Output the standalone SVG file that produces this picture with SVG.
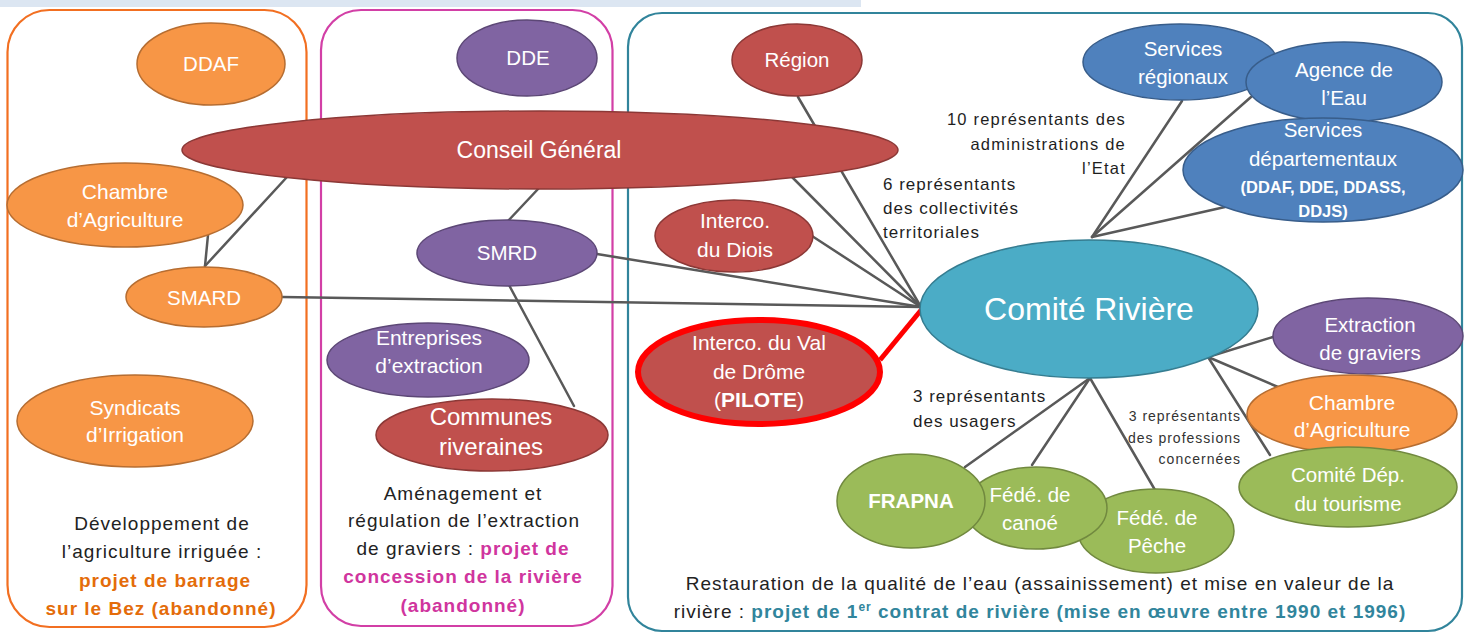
<svg xmlns="http://www.w3.org/2000/svg" width="1470" height="634" viewBox="0 0 1470 634">
<style>
text{font-family:"Liberation Sans",Arial,sans-serif}
.n{fill:#fff;font-size:20.5px;text-anchor:middle}
.nb{font-weight:bold}
.lbl{fill:#1e1e1e;font-size:17px;letter-spacing:1px}
.cap{fill:#222;font-size:19px;letter-spacing:1px;text-anchor:middle}
.or{fill:#e46c0a;font-weight:bold}
.mg{fill:#d0359e;font-weight:bold}
.tl{fill:#31859c;font-weight:bold}
.c{stroke:#595959;stroke-width:2.5;fill:none;stroke-linecap:round}
.orange{fill:#f79646;stroke:#b66d31;stroke-width:1.5}
.purple{fill:#8064a2;stroke:#5c4776;stroke-width:1.5}
.red{fill:#c0504d;stroke:#8c3836;stroke-width:1.5}
.blue{fill:#4f81bd;stroke:#385d8a;stroke-width:1.5}
.teal{fill:#4bacc6;stroke:#357d91;stroke-width:1.5}
.green{fill:#9bbb59;stroke:#71893f;stroke-width:1.5}
</style>
<rect x="0" y="0" width="1470" height="634" fill="#fff"/>
<rect x="0" y="0" width="861" height="7" fill="#dce6f2"/>
<g id="panels" fill="none" stroke-width="2.2">
<rect x="7.5" y="10" width="299" height="617" rx="42" stroke="#f26f21"/>
<rect x="321" y="10" width="291.5" height="616" rx="40" stroke="#d23fa6"/>
<rect x="628" y="13" width="834" height="618" rx="34" stroke="#31849b"/>
</g>
<g id="connectors">
<line class="c" x1="282" y1="297" x2="921" y2="307"/>
<line class="c" x1="597" y1="254" x2="921" y2="307"/>
<line class="c" x1="812" y1="236" x2="921" y2="307"/>
<line class="c" x1="792" y1="177" x2="921" y2="307"/>
<line class="c" x1="798" y1="97" x2="921" y2="307"/>
<line class="c" x1="208" y1="235" x2="205" y2="266"/>
<line class="c" x1="287" y1="177" x2="205" y2="266"/>
<line class="c" x1="539" y1="188" x2="508" y2="221"/>
<line class="c" x1="509" y1="285" x2="574" y2="406"/>
<line x1="880" y1="360" x2="922" y2="309" stroke="#ff0000" stroke-width="5"/>
<line class="c" x1="1092" y1="237" x2="1182" y2="101"/>
<line class="c" x1="1092" y1="237" x2="1251" y2="97"/>
<line class="c" x1="1092" y1="237" x2="1225" y2="207"/>
<line class="c" x1="1090" y1="378" x2="965" y2="467"/>
<line class="c" x1="1090" y1="378" x2="1032" y2="465"/>
<line class="c" x1="1090" y1="378" x2="1155" y2="490"/>
<line class="c" x1="1208" y1="357" x2="1273" y2="337"/>
<line class="c" x1="1208" y1="357" x2="1278" y2="387"/>
<line class="c" x1="1208" y1="357" x2="1270" y2="455"/>
</g>
<g id="ddaf"><ellipse class="orange" cx="211" cy="64" rx="74" ry="41"/><text class="n" x="211" y="71">DDAF</text></g>
<g id="conseil-general"><ellipse class="red" cx="540" cy="150" rx="358" ry="39"/><text class="n" x="539" y="158" style="font-size:23px">Conseil Général</text></g>
<g id="chambre-agri-left"><ellipse class="orange" cx="125" cy="205" rx="118" ry="42"/><text class="n" x="125" y="199" style="font-size:21px">Chambre</text><text class="n" x="125" y="227" style="font-size:21px">d’Agriculture</text></g>
<g id="smard"><ellipse class="orange" cx="204" cy="297" rx="78" ry="30"/><text class="n" x="204" y="305">SMARD</text></g>
<g id="syndicats"><ellipse class="orange" cx="135" cy="421" rx="118" ry="46"/><text class="n" x="135" y="415" style="font-size:21px">Syndicats</text><text class="n" x="135" y="442" style="font-size:21px">d’Irrigation</text></g>
<g id="dde"><ellipse class="purple" cx="527" cy="58" rx="70" ry="38"/><text class="n" x="528" y="65">DDE</text></g>
<g id="smrd"><ellipse class="purple" cx="507" cy="253" rx="90" ry="33"/><text class="n" x="507" y="260">SMRD</text></g>
<g id="entreprises"><ellipse class="purple" cx="428" cy="360" rx="101" ry="37"/><text class="n" x="429" y="345" style="font-size:21px">Entreprises</text><text class="n" x="429" y="373" style="font-size:21px">d’extraction</text></g>
<g id="communes"><ellipse class="red" cx="492" cy="435" rx="116" ry="36"/><text class="n" x="491" y="425" style="font-size:24px">Communes</text><text class="n" x="491" y="455" style="font-size:24px">riveraines</text></g>
<g id="region"><ellipse class="red" cx="797" cy="60" rx="65" ry="36"/><text class="n" x="797" y="67">Région</text></g>
<g id="interco-diois"><ellipse class="red" cx="734" cy="236" rx="79" ry="36"/><text class="n" x="735" y="228" style="font-size:21px">Interco.</text><text class="n" x="735" y="257" style="font-size:21px">du Diois</text></g>
<g id="interco-val-drome"><ellipse cx="759" cy="372" rx="121" ry="52" fill="#c0504d" stroke="#ff0000" stroke-width="6"/><text class="n" x="759" y="350" style="font-size:21px">Interco. du Val</text><text class="n" x="759" y="379" style="font-size:21px">de Drôme</text><text class="n" x="759" y="407" style="font-size:21px">(<tspan class="nb">PILOTE</tspan>)</text></g>
<g id="comite-riviere"><ellipse class="teal" cx="1089" cy="309" rx="169" ry="69"/><text class="n" x="1089" y="320" style="font-size:32px">Comité Rivière</text></g>
<g id="services-regionaux"><ellipse class="blue" cx="1180" cy="62" rx="97" ry="38"/><text class="n" x="1183" y="56">Services</text><text class="n" x="1183" y="84">régionaux</text></g>
<g id="agence-eau"><ellipse class="blue" cx="1344" cy="82" rx="98" ry="40"/><text class="n" x="1344" y="77">Agence de</text><text class="n" x="1344" y="105">l’Eau</text></g>
<g id="services-departementaux"><ellipse class="blue" cx="1323" cy="170" rx="140" ry="52"/><text class="n" x="1323" y="137">Services</text><text class="n" x="1323" y="166">départementaux</text><text class="n nb" x="1323" y="193" style="font-size:16.5px">(DDAF, DDE, DDASS,</text><text class="n nb" x="1323" y="217" style="font-size:16.5px">DDJS)</text></g>
<g id="extraction-graviers"><ellipse class="purple" cx="1368" cy="336" rx="95" ry="38"/><text class="n" x="1370" y="332">Extraction</text><text class="n" x="1370" y="360">de graviers</text></g>
<g id="chambre-agri-right"><ellipse class="orange" cx="1352" cy="414" rx="105" ry="39"/><text class="n" x="1352" y="410" style="font-size:21px">Chambre</text><text class="n" x="1352" y="437" style="font-size:21px">d’Agriculture</text></g>
<g id="comite-dep-tourisme"><ellipse class="green" cx="1348" cy="487" rx="109" ry="40"/><text class="n" x="1348" y="482">Comité Dép.</text><text class="n" x="1348" y="511">du tourisme</text></g>
<g id="fede-peche"><ellipse class="green" cx="1156" cy="531" rx="78" ry="42"/><text class="n" x="1157" y="525">Fédé. de</text><text class="n" x="1157" y="553">Pêche</text></g>
<g id="fede-canoe"><ellipse class="green" cx="1036" cy="508" rx="71" ry="41"/><text class="n" x="1030" y="502">Fédé. de</text><text class="n" x="1030" y="530">canoé</text></g>
<g id="frapna"><ellipse class="green" cx="911" cy="501" rx="74" ry="47"/><text class="n nb" x="911" y="508">FRAPNA</text></g>
<g id="labels">
<text class="lbl" x="1126" y="125" text-anchor="end" style="font-size:16.5px;letter-spacing:1.2px">10 représentants des</text>
<text class="lbl" x="1126" y="150" text-anchor="end" style="font-size:16.5px;letter-spacing:1.2px">administrations de</text>
<text class="lbl" x="1126" y="174" text-anchor="end" style="font-size:16.5px;letter-spacing:1.2px">l’Etat</text>
<text class="lbl" x="883" y="190">6 représentants</text>
<text class="lbl" x="883" y="214">des collectivités</text>
<text class="lbl" x="883" y="238">territoriales</text>
<text class="lbl" x="913" y="402">3 représentants</text>
<text class="lbl" x="913" y="427">des usagers</text>
<text class="lbl" x="1241" y="421" text-anchor="end" style="font-size:14px;fill:#333">3 représentants</text>
<text class="lbl" x="1241" y="443" text-anchor="end" style="font-size:14px;fill:#333">des professions</text>
<text class="lbl" x="1241" y="464" text-anchor="end" style="font-size:14px;fill:#333">concernées</text>
</g>
<g id="captions">
<text class="cap" x="162" y="530">Développement de</text>
<text class="cap" x="162" y="558">l’agriculture irriguée :</text>
<text class="cap or" x="165" y="587">projet de barrage</text>
<text class="cap or" x="161" y="615">sur le Bez (abandonné)</text>
<text class="cap" x="463" y="500">Aménagement et</text>
<text class="cap" x="464" y="527">régulation de l’extraction</text>
<text class="cap" x="463" y="555">de graviers : <tspan class="mg">projet de</tspan></text>
<text class="cap mg" x="463" y="583">concession de la rivière</text>
<text class="cap mg" x="463" y="612">(abandonné)</text>
<text class="cap" x="1040" y="590">Restauration de la qualité de l’eau (assainissement) et mise en valeur de la</text>
<text class="cap" x="1040" y="618">rivière : <tspan class="tl">projet de 1<tspan dy="-7" style="font-size:12px">er</tspan><tspan dy="7"> contrat de rivière (mise en œuvre entre 1990 et 1996)</tspan></tspan></text>
</g>
</svg>
